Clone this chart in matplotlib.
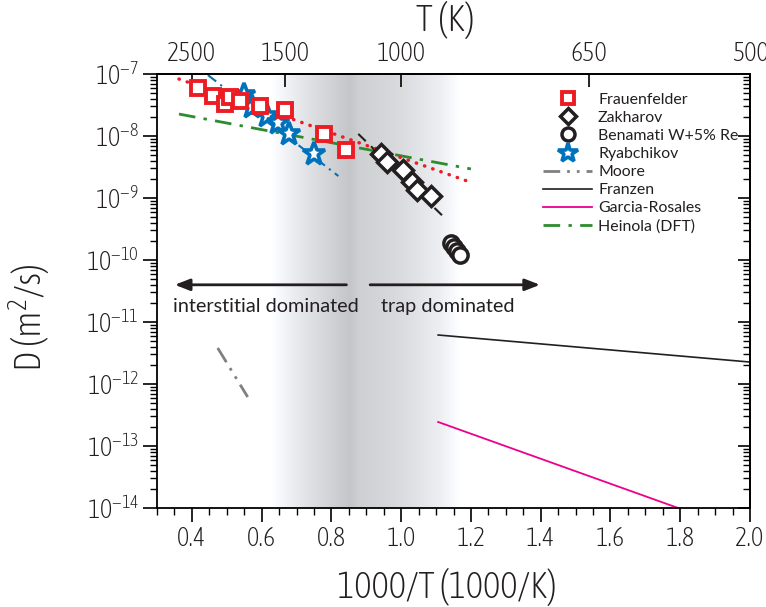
import numpy as np
import matplotlib
matplotlib.use('Agg')
from matplotlib import pyplot as plt
from matplotlib import font_manager
from matplotlib.font_manager import FontProperties
from matplotlib.textpath import TextPath
from matplotlib.ticker import FixedLocator, FuncFormatter, LogLocator, MultipleLocator, NullFormatter

# static, regular-weight font files only (variable fonts render at their thinnest instance)
static = set(f.name for f in font_manager.fontManager.ttflist
             if '[' not in f.fname and f.weight in (400, 'normal', 'regular') and f.style == 'normal')

def pick(prefs):
    for p in prefs:
        if p in static:
            return p
    return 'DejaVu Sans'

cond = pick(['Asap Condensed', 'Cabin Condensed', 'Barlow Semi Condensed', 'Liberation Sans'])
reg = pick(['Source Sans Pro', 'Source Sans 3', 'Lato', 'Open Sans'])

def fit_size(s, fam, px, weight='normal'):
    # font size (pt) that gives an ink width of px pixels at 100 dpi
    w = TextPath((0, 0), s, size=100, prop=FontProperties(family=fam, weight=weight)).get_extents().width / 100.0
    return px / w * 0.72

plt.rcParams['font.family'] = [cond, 'DejaVu Sans']
plt.rcParams['font.weight'] = 'light'
plt.rcParams['axes.labelweight'] = 'light'
plt.rcParams['mathtext.fontset'] = 'custom'
plt.rcParams['mathtext.rm'] = cond

tick_fs = fit_size('2500', cond, 47, 'light')
label_fs = fit_size('1000/T (1000/K)', cond, 216, 'light')
top_fs = fit_size('T (K)', cond, 56, 'light')
leg_fs = fit_size('Frauenfelder', reg, 88)
note_fs = fit_size('interstitial dominated', reg, 184)

# data: x = 1000/T, y = D (m^2/s)
frau_x = [0.417, 0.460, 0.494, 0.509, 0.537, 0.594, 0.666, 0.780, 0.843]
frau_D = [5.94e-8, 4.42e-8, 3.28e-8, 4.26e-8, 3.67e-8, 3.05e-8, 2.62e-8, 1.08e-8, 5.94e-9]
frau_fit_x = [0.363, 1.189]
frau_fit_D = [8.3e-8, 1.88e-9]

zakh_x = [0.943, 0.960, 1.006, 1.031, 1.046, 1.086]
zakh_D = [5.13e-9, 3.81e-9, 2.83e-9, 1.81e-9, 1.35e-9, 1.08e-9]
zakh_fit_x = [0.877, 1.131]
zakh_fit_D = [1.08e-8, 4.42e-10]

bena_x = [1.143, 1.151, 1.160, 1.169]
bena_D = [1.88e-10, 1.62e-10, 1.40e-10, 1.21e-10]

ryab_x = [0.549, 0.571, 0.614, 0.646, 0.677, 0.751]
ryab_D = [4.58e-8, 2.94e-8, 2.10e-8, 1.62e-8, 1.08e-8, 5.13e-9]
ryab_fit_x = [0.446, 0.820]
ryab_fit_D = [9.6e-8, 2.26e-9]

moore_x = [0.474, 0.560]
moore_D = [3.81e-12, 6.17e-13]
franzen_x = [1.106, 2.0]
franzen_D = [6.17e-12, 2.26e-12]
garcia_x = [1.106, 1.794]
garcia_D = [2.44e-13, 1.0e-14]
heinola_x = [0.363, 1.2]
heinola_D = [2.26e-8, 2.94e-9]

T_ticks = [2500, 1500, 1000, 650, 500]

# shaded transition band (grey level along 1000/T)
band_x = [0.62, 0.71, 0.85, 0.88, 0.99, 1.11, 1.17]
band_g = [1.0, 0.90, 0.77, 0.81, 0.85, 0.93, 1.0]

red = '#ed1c24'
blue = '#0072bc'
green = '#2e8b2e'
magenta = '#ec008c'
black = '#231f20'

fig = plt.figure(figsize=(7.66, 6.07), dpi=100)
ax = fig.add_axes([157/766, 1-508/607, 593/766, 434/607])
ax.set_yscale('log')

gx = np.linspace(band_x[0], band_x[-1], 300)
gg = np.interp(gx, band_x, band_g)
grad = np.stack([gg, np.clip(gg + 0.005, 0, 1), np.clip(gg + 0.015, 0, 1)], axis=-1)[np.newaxis, :, :]
ax.imshow(grad, extent=[band_x[0], band_x[-1], 1e-14, 1e-7], aspect='auto',
          interpolation='bilinear', zorder=0)

ax.plot(moore_x, moore_D, color='#808080', lw=2, dashes=[6, 2.5, 1, 2.5, 1, 2.5], label='Moore', zorder=2)
ax.plot(franzen_x, franzen_D, color=black, lw=1.2, label='Franzen', zorder=2)
ax.plot(garcia_x, garcia_D, color=magenta, lw=1.3, label='Garcia-Rosales', zorder=2)
ax.plot(heinola_x, heinola_D, color=green, lw=2, dashes=[6, 3, 1.2, 3], label='Heinola (DFT)', zorder=2)
ax.plot(ryab_fit_x, ryab_fit_D, color=blue, lw=1.5, dashes=[5, 2.5, 1, 2.5], zorder=2)
ax.plot(zakh_fit_x, zakh_fit_D, color=black, lw=1.5, dashes=[5, 3.5], zorder=2)
ax.plot(frau_fit_x, frau_fit_D, color=red, lw=2.5, linestyle=(0, (0.1, 2.4)),
        dash_capstyle='round', zorder=3)

ax.plot(ryab_x, ryab_D, linestyle='none', marker='*', ms=17, mfc='white', mec=blue, mew=2.6,
        label='Ryabchikov', zorder=4)
ax.plot(frau_x, frau_D, linestyle='none', marker='s', ms=10, mfc='white', mec=red, mew=2.8,
        label='Frauenfelder', zorder=5)
ax.plot(zakh_x, zakh_D, linestyle='none', marker='D', ms=10, mfc='white', mec=black, mew=2.5,
        label='Zakharov', zorder=5)
ax.plot(bena_x, bena_D, linestyle='none', marker='o', ms=11, mfc='white', mec=black, mew=2.5,
        label='Benamati W+5% Re', zorder=5)

# arrows and region labels
ax.annotate('', xy=(0.343, 3.98e-11), xytext=(0.851, 3.98e-11),
            arrowprops=dict(arrowstyle='-|>,head_length=0.9,head_width=0.35', color=black, lw=2))
ax.annotate('', xy=(1.406, 3.98e-11), xytext=(0.903, 3.98e-11),
            arrowprops=dict(arrowstyle='-|>,head_length=0.9,head_width=0.35', color=black, lw=2))
ax.text(0.346, 1.75e-11, 'interstitial dominated', family=reg, weight='normal', fontsize=note_fs,
        color=black, ha='left', va='center')
ax.text(0.943, 1.75e-11, 'trap dominated', family=reg, weight='normal', fontsize=note_fs,
        color=black, ha='left', va='center')

ax.set_xlim(0.3, 2.0)
ax.set_ylim(1e-14, 1e-7)

ax.xaxis.set_major_locator(MultipleLocator(0.2))
ax.xaxis.set_minor_locator(MultipleLocator(0.05))
ax.xaxis.set_major_formatter(FuncFormatter(lambda v, p: '%.1f' % v))
ax.yaxis.set_major_locator(LogLocator(base=10, numticks=20))
ax.yaxis.set_minor_locator(LogLocator(base=10, subs=np.arange(2, 10), numticks=20))
ax.yaxis.set_minor_formatter(NullFormatter())
ax.yaxis.set_major_formatter(FuncFormatter(lambda v, p: r'$\mathregular{10^{%d}}$' % round(np.log10(v))))
ax.tick_params(which='major', direction='out', length=10, width=1.2, labelsize=tick_fs, pad=3,
               labelcolor=black)
ax.tick_params(which='minor', direction='out', length=5, width=1.0)
for s in ax.spines.values():
    s.set_linewidth(1.3)

# right side: inward ticks, no labels
rax = ax.secondary_yaxis('right')
rax.yaxis.set_major_locator(LogLocator(base=10, numticks=20))
rax.yaxis.set_minor_locator(LogLocator(base=10, subs=np.arange(2, 10), numticks=20))
rax.yaxis.set_major_formatter(NullFormatter())
rax.yaxis.set_minor_formatter(NullFormatter())
rax.tick_params(which='major', direction='in', length=9, width=1.2)
rax.tick_params(which='minor', direction='in', length=5, width=1.0)
rax.spines['right'].set_linewidth(1.3)

# top axis in temperature
tax = ax.secondary_xaxis('top')
tax.xaxis.set_major_locator(FixedLocator([1000.0 / t for t in T_ticks]))
tax.set_xticklabels([str(t) for t in T_ticks])
tax.tick_params(which='major', direction='in', length=9, width=1.2, labelsize=tick_fs, pad=5.5,
                labelcolor=black)
tax.spines['top'].set_linewidth(1.3)

ax.set_xlabel('1000/T (1000/K)', fontsize=label_fs, color=black, fontweight='light')
ax.xaxis.set_label_coords(0.489, -0.138)
ax.set_ylabel(r'D (m$^{\mathregular{2}}$/s)', fontsize=label_fs, color=black, fontweight='light')
ax.yaxis.set_label_coords(-0.175, 0.438)
fig.text(445/766, 1-20/607, 'T (K)', fontsize=top_fs, ha='center', va='center', color=black,
         fontweight='light')

handles, labels = ax.get_legend_handles_labels()
order = ['Frauenfelder', 'Zakharov', 'Benamati W+5% Re', 'Ryabchikov', 'Moore', 'Franzen',
         'Garcia-Rosales', 'Heinola (DFT)']
hmap = dict(zip(labels, handles))
lpx = leg_fs / 0.72
leg = ax.legend([hmap[k] for k in order], order, loc='upper left', bbox_to_anchor=(0.651, 0.957),
                frameon=False, prop={'family': reg, 'size': leg_fs, 'weight': 'normal'},
                handlelength=49 / lpx, handletextpad=6 / lpx, labelspacing=0.25, markerscale=0.85,
                borderaxespad=0, borderpad=0, labelcolor=black)

fig.savefig('out.png', dpi=100)
